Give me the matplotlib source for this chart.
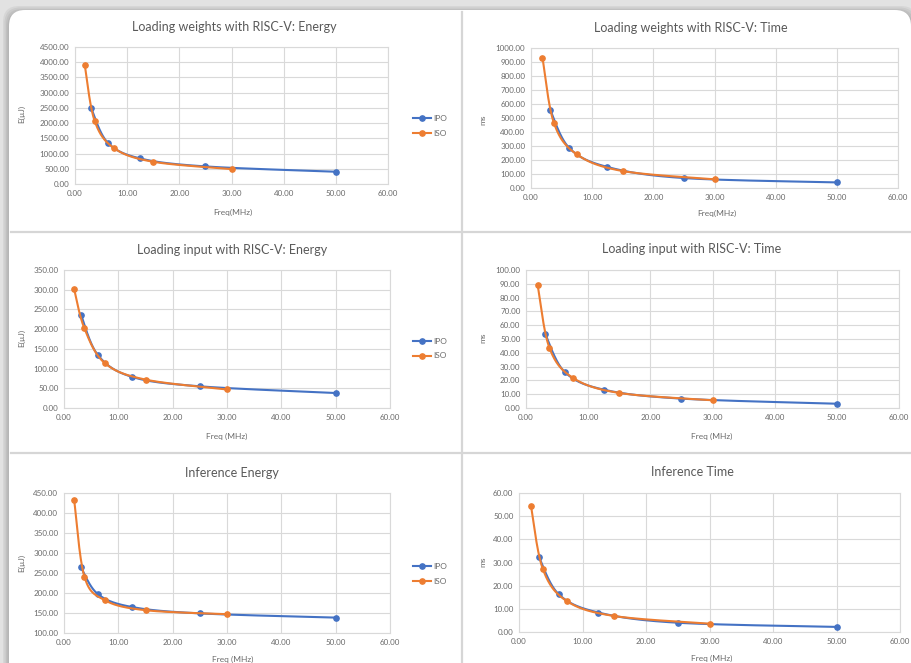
import numpy as np
import matplotlib
matplotlib.use("Agg")
import matplotlib.pyplot as plt
from matplotlib.patches import FancyBboxPatch
from matplotlib.lines import Line2D
from matplotlib.ticker import FormatStrFormatter, MultipleLocator

W, H = 911, 663
FONT = ["Lato", "DejaVu Sans"]
plt.rcParams["font.family"] = FONT

# ---------------- data ----------------
ipo_freq = [3.125, 6.25, 12.5, 25.0, 50.0]
iso_freq = [1.875, 3.75, 7.5, 15.0, 30.0]

w_energy_ipo = [2484, 1362, 839, 577, 403]
w_energy_iso = [3900, 2080, 1176, 730, 490]
w_time_ipo = [560, 286, 150, 71, 40]
w_time_iso = [931, 464, 240, 121, 62]
in_energy_ipo = [237, 134, 79, 55, 38]
in_energy_iso = [301, 202, 114, 72, 47]
in_time_ipo = [53.3, 26.0, 13.3, 6.8, 3.1]
in_time_iso = [89.0, 43.8, 22.0, 10.9, 5.6]
inf_energy_ipo = [264, 197, 165, 149, 138.5]
inf_energy_iso = [432, 241, 182, 157, 147]
inf_time_ipo = [32.5, 16.3, 8.4, 4.0, 2.2]
inf_time_iso = [54.6, 27.2, 13.4, 6.9, 3.6]

series_labels = ["IPO", "ISO"]
titles = ["Loading weights with RISC-V: Energy", "Loading weights with RISC-V: Time",
          "Loading input with RISC-V: Energy", "Loading input with RISC-V: Time",
          "Inference Energy", "Inference Time"]
xlabels = ["Freq(MHz)", "Freq(MHz)", "Freq (MHz)", "Freq (MHz)", "Freq (MHz)", "Freq (MHz)"]
ylabels = ["E(\u00b5J)", "ms", "E(\u00b5J)", "ms", "E(\u00b5J)", "ms"]

BLUE = "#4472C4"
ORANGE = "#ED7D31"
GRID = "#d9d9d9"
TXT = "#6a6a6a"

fig = plt.figure(figsize=(W / 100, H / 100), dpi=100)
fig.patch.set_facecolor("#e2e2e2")

# background layer (card, shadow, dividers)
bg = fig.add_axes([0, 0, 1, 1], zorder=0)
bg.set_xlim(0, W)
bg.set_ylim(H, 0)
bg.axis("off")
for k, a in enumerate([0.05, 0.05, 0.05, 0.05]):
    g = 6 - k * 1.5
    bg.add_patch(FancyBboxPatch((9 - g, 10 - g + 2), 902 + 2 * g, 700, boxstyle="round,pad=0,rounding_size=16",
                                fc="#000000", ec="none", alpha=a))
bg.add_patch(FancyBboxPatch((9, 10), 902, 700, boxstyle="round,pad=0,rounding_size=16",
                            fc="white", ec="none"))
bg.plot([462, 462], [12, H], color="#d6d6d6", lw=1.6)
bg.plot([11, 911], [232, 232], color="#d6d6d6", lw=1.6)
bg.plot([11, 911], [453, 453], color="#d6d6d6", lw=1.6)


def smooth(x, y, n=40):
    P = np.column_stack([x, y]).astype(float)
    P = np.vstack([P[0], P, P[-1]])
    t = np.linspace(0, 1, n)[:, None]
    segs = []
    for i in range(1, len(P) - 2):
        p0, p1, p2, p3 = P[i - 1], P[i], P[i + 1], P[i + 2]
        c1 = p1 + (p2 - p0) / 6
        c2 = p2 - (p3 - p1) / 6
        seg = (1 - t) ** 3 * p1 + 3 * (1 - t) ** 2 * t * c1 + 3 * (1 - t) * t ** 2 * c2 + t ** 3 * p2
        segs.append(seg if i == 1 else seg[1:])
    S = np.vstack(segs)
    return S[:, 0], S[:, 1]


def rect(l, t, r, b):
    return [l / W, 1 - b / H, (r - l) / W, (b - t) / H]


charts = [
    dict(box=(75, 47, 388, 184), ylim=(0, 4500), step=500, ipo=w_energy_ipo, iso=w_energy_iso,
         title=(234, 27), xl=(233, 212), yl=(22, 114), legend=(417, 124)),
    dict(box=(531, 48, 898, 188), ylim=(0, 1000), step=100, ipo=w_time_ipo, iso=w_time_iso,
         title=(691, 28), xl=(717, 213), yl=(483, 120), legend=None),
    dict(box=(64, 270, 390, 408), ylim=(0, 350), step=50, ipo=in_energy_ipo, iso=in_energy_iso,
         title=(232, 250), xl=(227, 436), yl=(22, 338), legend=(417, 347)),
    dict(box=(526, 270, 899, 408), ylim=(0, 100), step=10, ipo=in_time_ipo, iso=in_time_iso,
         title=(692, 249), xl=(712, 436), yl=(483, 338), legend=None),
    dict(box=(64, 493, 390, 633), ylim=(100, 450), step=50, ipo=inf_energy_ipo, iso=inf_energy_iso,
         title=(232, 473), xl=(233, 659), yl=(22, 563), legend=(417, 572)),
    dict(box=(519, 493, 900, 632), ylim=(0, 60), step=10, ipo=inf_time_ipo, iso=inf_time_iso,
         title=(692, 472), xl=(712, 658), yl=(483, 562), legend=None),
]

for i, c in enumerate(charts):
    ax = fig.add_axes(rect(*c["box"]), zorder=2)
    ax.set_facecolor("none")
    ax.set_xlim(0, 60)
    ax.set_ylim(*c["ylim"])
    ax.xaxis.set_major_locator(MultipleLocator(10))
    ax.yaxis.set_major_locator(MultipleLocator(c["step"]))
    ax.xaxis.set_major_formatter(FormatStrFormatter("%.2f"))
    ax.yaxis.set_major_formatter(FormatStrFormatter("%.2f"))
    ax.grid(True, color=GRID, lw=0.8)
    ax.set_axisbelow(True)
    for s in ax.spines.values():
        s.set_color(GRID)
        s.set_linewidth(0.8)
    ax.tick_params(length=0, labelsize=5.8, labelcolor=TXT, pad=4)

    for fx, vals, col in [(ipo_freq, c["ipo"], BLUE), (iso_freq, c["iso"], ORANGE)]:
        sx, sy = smooth(fx, vals)
        ax.plot(sx, sy, color=col, lw=1.5, solid_capstyle="round", clip_on=False)
        ax.plot(fx, vals, ls="none", marker="o", ms=3.8, color=col, clip_on=False)

    fig.text(c["title"][0] / W, 1 - c["title"][1] / H, titles[i], ha="center", va="center",
             fontsize=9.0, color="#595959")
    fig.text(c["xl"][0] / W, 1 - c["xl"][1] / H, xlabels[i], ha="center", va="center",
             fontsize=6.0, color=TXT)
    fig.text(c["yl"][0] / W, 1 - c["yl"][1] / H, ylabels[i], ha="center", va="center",
             fontsize=6.0, color=TXT, rotation=90)

    if c["legend"] is not None:
        lx, ly = c["legend"]
        handles = [Line2D([], [], color=BLUE, lw=1.5, marker="o", ms=3.8),
                   Line2D([], [], color=ORANGE, lw=1.5, marker="o", ms=3.8)]
        fig.legend(handles, series_labels, loc="upper left",
                   bbox_to_anchor=((lx - 4) / W, 1 - (ly - 9) / H), frameon=False,
                   fontsize=6.0, labelcolor=TXT, handlelength=2.2, handletextpad=0.2,
                   labelspacing=0.9, borderaxespad=0, borderpad=0)

fig.savefig("out.png", dpi=100, facecolor=fig.get_facecolor())
